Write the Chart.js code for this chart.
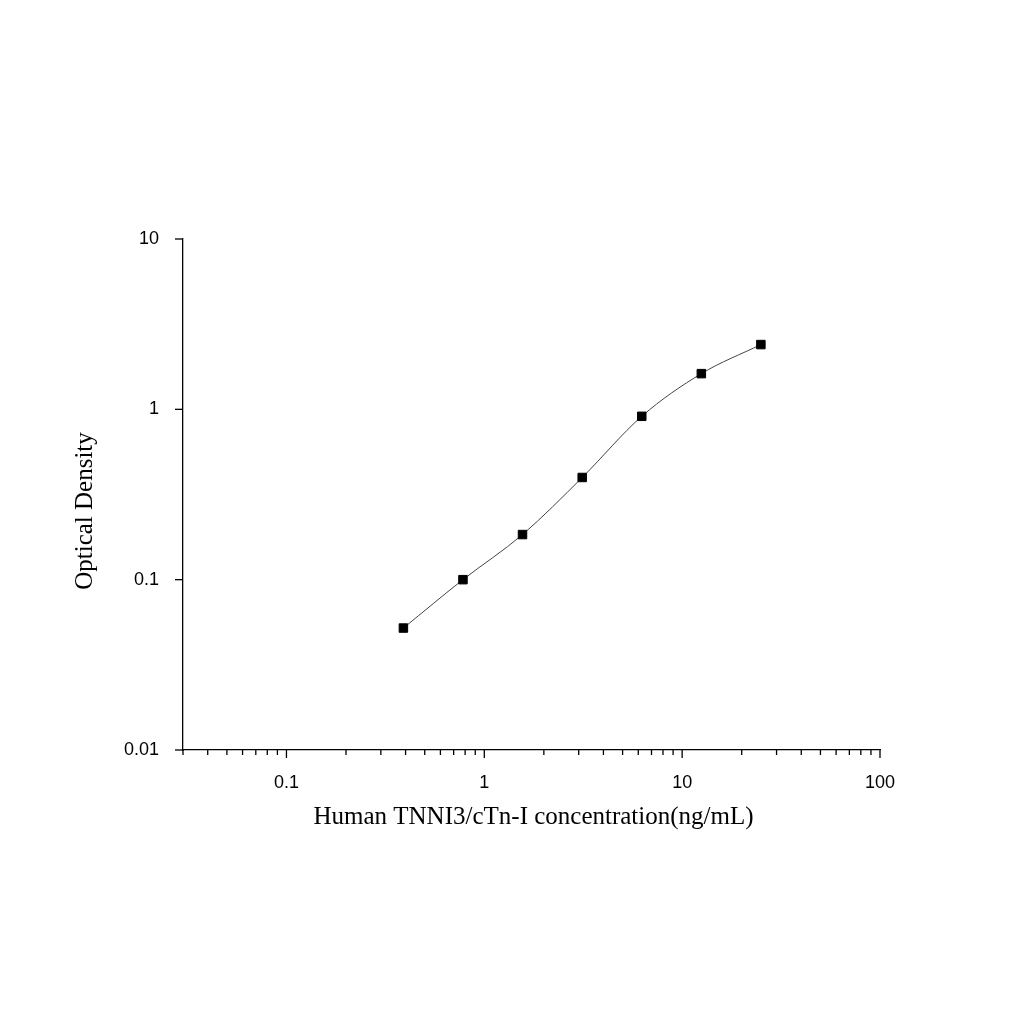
<!DOCTYPE html>
<html><head><meta charset="utf-8">
<script src="https://cdn.jsdelivr.net/npm/chart.js@4/dist/chart.umd.min.js"></script>
<style>html,body{margin:0;background:#fff}#w{width:1024px;height:1024px}</style>
</head><body><div id="w"><canvas id="c" width="1024" height="1024"></canvas></div>
<script>
const concentrations = [0.39, 0.78, 1.56, 3.125, 6.25, 12.5, 25];
const opticalDensity = [0.052, 0.100, 0.184, 0.398, 0.91, 1.62, 2.40];
const xMajorTicks = [0.1, 1, 10, 100];
const yMajorTicks = [0.01, 0.1, 1, 10];
const xTitle = 'Human TNNI3/cTn-I concentration(ng/mL)';
const yTitle = 'Optical Density';

const xAll = [];
for (let d = -2; d <= 1; d++) for (let m = 1; m <= 9; m++) {
  const v = +(m * Math.pow(10, d)).toPrecision(3);
  if (v >= 0.03 && v <= 100) xAll.push(v);
}
xAll.push(100);

const axisPlugin = {
  id: 'axisExtras',
  afterDraw(chart) {
    const ctx = chart.ctx, xs = chart.scales.x, ys = chart.scales.y;
    ctx.save();
    ctx.strokeStyle = '#000'; ctx.lineWidth = 1.3;
    xAll.forEach(v => {
      const p = xs.getPixelForValue(v);
      const maj = xMajorTicks.includes(v);
      ctx.beginPath(); ctx.moveTo(p, ys.bottom); ctx.lineTo(p, ys.bottom + (maj ? 8 : 5)); ctx.stroke();
    });
    yMajorTicks.forEach(v => {
      const p = ys.getPixelForValue(v);
      ctx.beginPath(); ctx.moveTo(xs.left, p); ctx.lineTo(xs.left - 8, p); ctx.stroke();
    });
    ctx.fillStyle = '#000';
    ctx.font = '25px "Liberation Serif"';
    ctx.textAlign = 'center'; ctx.textBaseline = 'middle';
    ctx.fillText(xTitle, (xs.left + xs.right) / 2 + 2, 817);
    ctx.translate(85, 511); ctx.rotate(-Math.PI / 2);
    ctx.fillText(yTitle, 0, 0);
    ctx.restore();
  }
};

new Chart(document.getElementById('c'), {
  type: 'line',
  data: { datasets: [
    { data: concentrations.map((x, i) => ({x, y: opticalDensity[i]})),
      borderColor: '#444', borderWidth: 1, backgroundColor: '#000',
      pointStyle: 'rect', pointRadius: 6, pointBorderColor: '#000',
      cubicInterpolationMode: 'monotone', tension: 0.4 }
  ]},
  options: {
    responsive: false, animation: false,
    layout: { padding: { top: 239, right: 144, left: 0, bottom: 0 } },
    plugins: { legend: { display: false }, tooltip: { enabled: false } },
    scales: {
      x: { type: 'logarithmic', min: 0.03, max: 100,
        afterFit(s) { s.height = 274; },
        afterBuildTicks(s) { s.ticks = xAll.map(v => ({value: v})); },
        grid: { display: false }, border: { display: true, color: '#000', width: 1.3 },
        ticks: { autoSkip: false, maxRotation: 0, padding: 14, color: '#000',
          font: { family: 'Liberation Sans', size: 18 },
          callback: v => xMajorTicks.includes(v) ? String(v) : '' } },
      y: { type: 'logarithmic', min: 0.01, max: 10,
        afterFit(s) { s.width = 183; },
        afterBuildTicks(s) { s.ticks = yMajorTicks.map(v => ({value: v})); },
        grid: { display: false }, border: { display: true, color: '#000', width: 1.3 },
        ticks: { padding: 16, color: '#000',
          font: { family: 'Liberation Sans', size: 18 },
          callback: v => String(v) } }
    }
  },
  plugins: [axisPlugin]
});
</script></body></html>
